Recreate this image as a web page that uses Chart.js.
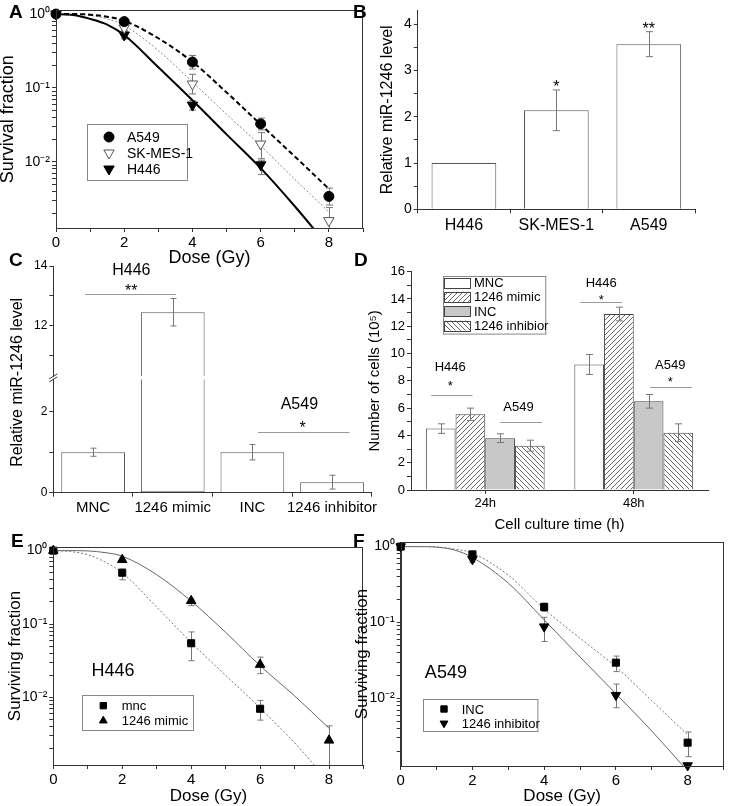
<!DOCTYPE html>
<html>
<head>
<meta charset="utf-8">
<script src="https://cdn.jsdelivr.net/npm/chart.js@4.4.1/dist/chart.umd.min.js"></script>
<style>
  body { margin: 0; width: 730px; height: 806px; overflow: hidden; position: relative; background: #fff; font-family: 'Liberation Sans', Arial, sans-serif; }
  canvas { position: absolute; }
  .lab { position: absolute; font-weight: bold; font-size: 19px; line-height: 1; }
</style>
</head>
<body>
<canvas id="chartA" width="370" height="270" style="left:0;top:0"></canvas>
<canvas id="chartB" width="360" height="270" style="left:370px;top:0"></canvas>
<canvas id="chartC" width="380" height="282" style="left:0;top:248px"></canvas>
<canvas id="chartD" width="370" height="285" style="left:360px;top:250px"></canvas>
<canvas id="chartE" width="370" height="276" style="left:0;top:530px"></canvas>
<canvas id="chartF" width="380" height="276" style="left:350px;top:530px"></canvas>
<div class="lab" style="left:9px;top:2px">A</div>
<div class="lab" style="left:353px;top:2px">B</div>
<div class="lab" style="left:9px;top:250px">C</div>
<div class="lab" style="left:354px;top:250px">D</div>
<div class="lab" style="left:11px;top:531px">E</div>
<div class="lab" style="left:353px;top:531px">F</div>
<script>
// ---- doses and tick labels ----
const doses = [0, 2, 4, 6, 8];
const doseLabels = [0, 2, 4, 6, 8];
const fitDoses = [0, 0.5, 1, 1.5, 2, 3, 4, 5, 6, 7, 8];
const survMajor = [0.01, 0.1, 1];
const survMajorLabels = ['10\u207B\u00B2', '10\u207B\u00B9', '10\u2070'];

// ---- A: survival of three cell lines ----
const a549Surv = [1.0, 0.79, 0.224, 0.0326, 0.0034];
const a549Hi = [null, 0.84, 0.275, 0.039, 0.0044];
const a549Lo = [null, 0.74, 0.18, 0.027, 0.0026];
const skmesSurv = [1.0, 0.65, 0.113, 0.0174, 0.0016];
const skmesHi = [null, 0.71, 0.153, 0.0248, 0.0024];
const skmesLo = [null, 0.59, 0.083, 0.011, 0.0011];
const h446Surv = [1.0, 0.52, 0.0585, 0.0091, null];
const h446Hi = [null, 0.57, 0.067, 0.0105, null];
const h446Lo = [null, 0.46, 0.05, 0.0067, null];
const a549Fit = [1.0, 1.0, 0.98, 0.92, 0.81, 0.47, 0.225, 0.087, 0.032, 0.0118, 0.0043];
const skmesFit = [1.0, 0.995, 0.96, 0.86, 0.70, 0.32, 0.12, 0.044, 0.0165, 0.0058, 0.0021];
const h446Fit = [1.0, 0.97, 0.86, 0.72, 0.52, 0.19, 0.068, 0.0235, 0.0082, 0.0025, 0.0007];

// ---- B: miR-1246 in cell lines ----
const cellLines = ['H446', 'SK-MES-1', 'A549'];
const mirLevel = [1.0, 2.14, 3.57];
const mirSd = [0, 0.44, 0.27];

// ---- C: miR-1246 after mimic / inhibitor ----
const groupsC = ['MNC', '1246 mimic', 'INC', '1246 inhibitor'];
const mirLevelC = [1.0, 12.45, 1.0, 0.26];
const mirSdC = [0.1, 0.46, 0.19, 0.17];
const lowRange = [0, 2.8];
const highRange = [10.3, 14];

// ---- D: cell numbers ----
const cultureTimes = ['24h', '48h'];
const mncCells = [4.5, 9.2];
const mncCellsSd = [0.35, 0.73];
const mimicCells = [5.55, 12.9];
const mimicCellsSd = [0.45, 0.5];
const incCells = [3.8, 6.5];
const incCellsSd = [0.32, 0.5];
const inhibCells = [3.25, 4.2];
const inhibCellsSd = [0.4, 0.65];

// ---- E: H446 mnc vs mimic ----
const mncSurv = [1.0, 0.50, 0.0547, 0.0070, null];
const mncHi = [null, 0.56, 0.078, 0.0091, null];
const mncLo = [null, 0.40, 0.0316, 0.0049, null];
const mimicSurv = [1.0, 0.75, 0.207, 0.028, 0.0026];
const mimicHi = [null, 0.80, 0.22, 0.0354, 0.0041];
const mimicLo = [null, 0.69, 0.178, 0.0211, 0.0009];
const mimicFit = [1.0, 1.0, 0.99, 0.94, 0.84, 0.47, 0.205, 0.077, 0.027, 0.0105, 0.0038];
const mncFit = [1.0, 0.97, 0.88, 0.70, 0.50, 0.17, 0.056, 0.02, 0.0072, 0.0024, 0.0007];

// ---- F: A549 INC vs inhibitor ----
const incSurv = [1.0, 0.79, 0.16, 0.0295, 0.0026];
const incHi = [null, 0.83, 0.18, 0.036, 0.0036];
const incLo = [null, 0.75, 0.14, 0.0225, 0.0017];
const inhibSurv = [1.0, 0.68, 0.088, 0.011, 0.0013];
const inhibHi = [null, 0.74, 0.117, 0.0154, null];
const inhibLo = [null, 0.62, 0.056, 0.0075, null];
const incFit = [1.0, 1.0, 0.99, 0.93, 0.82, 0.42, 0.15, 0.062, 0.026, 0.0093, 0.0033];
const inhibFit = [1.0, 1.0, 0.985, 0.9, 0.72, 0.33, 0.108, 0.035, 0.0115, 0.0037, 0.0011];

const FONT = "'Liberation Sans', Arial, sans-serif";
Chart.defaults.font.family = FONT;
Chart.defaults.color = '#000';
Chart.defaults.animation = false;
Chart.defaults.responsive = false;
Chart.defaults.plugins.legend.display = false;
Chart.defaults.plugins.tooltip.enabled = false;

// fixed axis thickness so the plot areas land where the figure has them
const fit = n => axis => { if (axis.isHorizontal()) axis.height = n; else axis.width = n; };

function axis(o) {
  return Object.assign({}, o, {
    border: Object.assign({ color: '#333', width: 1 }, o.border),
    grid: Object.assign({ drawOnChartArea: false, color: '#333', tickLength: 4 }, o.grid),
    ticks: Object.assign({ color: '#000', padding: 2, autoSkip: false, maxRotation: 0 }, o.ticks)
  });
}

function logTicks(scale) {
  const vals = survMajor.slice();
  [-3, -2, -1].forEach(e => { for (let m = 2; m <= 9; m++) vals.push(m * Math.pow(10, e)); });
  scale.ticks = vals.filter(v => v >= scale.min && v <= scale.max).sort((a, b) => a - b).map(v => ({ value: v }));
}
const logLabel = v => { const k = survMajor.indexOf(v); return k >= 0 ? survMajorLabels[k] : ''; };

function pointSet(label, ys, hi, lo, style) {
  return Object.assign({
    label, data: doses.map((d, i) => ({ x: d, y: ys[i] })), errHi: hi, errLo: lo,
    showLine: false, order: 0, clip: false, pointBorderWidth: 1
  }, style);
}
function fitSet(ys, style) {
  return Object.assign({
    data: fitDoses.map((d, i) => ({ x: d, y: ys[i] })), showLine: true, pointRadius: 0,
    order: 1, clip: 0, cubicInterpolationMode: 'monotone', fill: false
  }, style);
}

// ---- plugins ----
function drawErrorBars(chart, opts) {
  const ctx = chart.ctx, a = chart.chartArea;
  ctx.save();
  ctx.beginPath(); ctx.rect(a.left, a.top, a.right - a.left, a.bottom - a.top); ctx.clip();
  ctx.strokeStyle = opts.color || '#777';
  ctx.lineWidth = 1;
  chart.data.datasets.forEach((ds, i) => {
    if (!ds.errHi && !ds.errSd) return;
    const meta = chart.getDatasetMeta(i);
    const ys = chart.scales[meta.yAxisID];
    meta.data.forEach((el, j) => {
      let hi, lo;
      if (ds.errHi) { hi = ds.errHi[j]; lo = ds.errLo[j]; }
      else {
        const m = (ds.errMean || ds.data)[j], s = ds.errSd[j];
        if (!s || m == null || m < ys.min || m > ys.max) return;
        hi = m + s; lo = m - s;
      }
      if (hi == null || lo == null) return;
      const x = Math.round(el.x) + 0.5, y1 = ys.getPixelForValue(hi), y2 = ys.getPixelForValue(lo);
      const c = opts.cap || 3;
      ctx.beginPath();
      ctx.moveTo(x, y1); ctx.lineTo(x, y2);
      ctx.moveTo(x - c, y1); ctx.lineTo(x + c, y1);
      ctx.moveTo(x - c, y2); ctx.lineTo(x + c, y2);
      ctx.stroke();
    });
  });
  ctx.restore();
}
const errorBars = {
  id: 'errorBars',
  beforeDatasetsDraw(chart, args, opts) { if (opts.behind) drawErrorBars(chart, opts); },
  afterDatasetsDraw(chart, args, opts) { if (!opts.behind) drawErrorBars(chart, opts); }
};

const sigMarks = {
  id: 'sigMarks',
  afterDatasetsDraw(chart, args, opts) {
    const ctx = chart.ctx, xs = chart.scales.x;
    (opts.items || []).forEach(it => {
      const ys = chart.scales[it.axis || 'y'];
      ctx.save();
      if (it.x2 !== undefined) {
        const y = Math.round(ys.getPixelForValue(it.y)) + 0.5;
        ctx.strokeStyle = '#999'; ctx.lineWidth = 1;
        ctx.beginPath();
        ctx.moveTo(xs.getPixelForValue(it.x1), y);
        ctx.lineTo(xs.getPixelForValue(it.x2), y);
        ctx.stroke();
      } else {
        const size = it.size || 14;
        ctx.font = size + 'px ' + FONT;
        ctx.fillStyle = '#000'; ctx.textAlign = 'center'; ctx.textBaseline = 'alphabetic';
        const lift = /^\*+$/.test(it.text) ? 0.575 : 0.358;
        ctx.fillText(it.text, xs.getPixelForValue(it.x), ys.getPixelForValue(it.y) + size * lift);
      }
      ctx.restore();
    });
  }
};

const boxLegend = {
  id: 'boxLegend',
  afterDraw(chart, args, o) {
    if (!o.items) return;
    const ctx = chart.ctx;
    ctx.save();
    ctx.strokeStyle = '#888'; ctx.lineWidth = 1;
    ctx.strokeRect(Math.round(o.left) + 0.5, Math.round(o.top) + 0.5, o.width, o.height);
    o.items.forEach((di, k) => {
      const ds = chart.data.datasets[di];
      const y = o.rowY[k];
      if (o.swatch) {
        ctx.fillStyle = ds.backgroundColor;
        ctx.fillRect(o.markerX, y - o.swatch.h / 2, o.swatch.w, o.swatch.h);
        ctx.strokeStyle = '#444';
        ctx.strokeRect(o.markerX + 0.5, Math.round(y - o.swatch.h / 2) + 0.5, o.swatch.w, o.swatch.h);
      } else {
        ctx.fillStyle = ds.pointBackgroundColor;
        ctx.strokeStyle = ds.pointBorderColor;
        ctx.lineWidth = 1;
        Chart.helpers.drawPoint(ctx, { pointStyle: ds.pointStyle, rotation: ds.pointRotation || 0,
          radius: o.markerRadius || ds.pointRadius, borderWidth: 1 }, o.markerX, y);
      }
      ctx.fillStyle = '#000';
      ctx.font = o.size + 'px ' + FONT;
      ctx.textAlign = 'left'; ctx.textBaseline = 'middle';
      ctx.fillText(ds.label, o.textX, y + 1);
    });
    ctx.restore();
  }
};

const frame = {
  id: 'frame',
  afterDraw(chart, args, o) {
    if (!o.show) return;
    const a = chart.chartArea, ctx = chart.ctx;
    ctx.save();
    ctx.strokeStyle = '#333'; ctx.lineWidth = 1;
    ctx.strokeRect(Math.round(a.left) + 0.5, Math.round(a.top) + 0.5, Math.round(a.right - a.left) - 1, Math.round(a.bottom - a.top));
    ctx.restore();
  }
};

const brokenAxis = {
  id: 'brokenAxis',
  afterDraw(chart, args, o) {
    if (!o.title) return;
    const ctx = chart.ctx, a = chart.chartArea;
    ctx.save();
    ctx.font = o.size + 'px ' + FONT;
    ctx.fillStyle = '#000'; ctx.textAlign = 'center'; ctx.textBaseline = 'middle';
    ctx.translate(o.titleX, (a.top + a.bottom) / 2 + 3);
    ctx.rotate(-Math.PI / 2);
    ctx.fillText(o.title, 0, 0);
    ctx.restore();
    ctx.save();
    ctx.strokeStyle = '#333'; ctx.lineWidth = 1;
    [chart.scales[o.lower].top, chart.scales[o.upper].bottom].forEach(yb => {
      ctx.beginPath();
      ctx.moveTo(a.left - 4, yb + 2.5); ctx.lineTo(a.left + 4, yb - 2.5);
      ctx.stroke();
    });
    ctx.restore();
  }
};

Chart.register(errorBars, sigMarks, boxLegend, frame, brokenAxis);

function hatch(dir) {
  const c = document.createElement('canvas');
  c.width = c.height = 5;
  const g = c.getContext('2d');
  g.fillStyle = '#fff'; g.fillRect(0, 0, 5, 5);
  g.strokeStyle = '#555'; g.lineWidth = 0.9;
  g.beginPath();
  if (dir > 0) { g.moveTo(0, 5); g.lineTo(5, 0); g.moveTo(-1, 1); g.lineTo(1, -1); g.moveTo(4, 6); g.lineTo(6, 4); }
  else { g.moveTo(0, 0); g.lineTo(5, 5); g.moveTo(-1, 4); g.lineTo(1, 6); g.moveTo(4, -1); g.lineTo(6, 1); }
  g.stroke();
  return g.createPattern(c, 'repeat');
}

function doseAxis(height, titleSize, tickSize, padBottom) {
  return axis({
    type: 'linear', min: 0, max: 9, afterFit: fit(height),
    ticks: { stepSize: 1, font: { size: tickSize }, callback: v => doseLabels.includes(v) ? String(v) : '' },
    title: { display: true, text: 'Dose (Gy)', font: { size: titleSize, lineHeight: 1 }, padding: { top: 0, bottom: padBottom } }
  });
}
function survAxis(width, min, max, title, titleSize, padTop) {
  return axis({
    type: 'logarithmic', min, max, afterFit: fit(width), afterBuildTicks: logTicks,
    ticks: { font: { size: 14 }, callback: logLabel },
    title: { display: true, text: title, font: { size: titleSize, lineHeight: 1 }, padding: { top: padTop, bottom: 0 } }
  });
}

// ---- A ----
new Chart(document.getElementById('chartA'), {
  type: 'scatter',
  data: { datasets: [
    pointSet('A549', a549Surv, a549Hi, a549Lo, { pointStyle: 'circle', pointRadius: 5, pointBackgroundColor: '#000', pointBorderColor: '#000' }),
    pointSet('SK-MES-1', skmesSurv, skmesHi, skmesLo, { pointStyle: 'triangle', pointRotation: 180, pointRadius: 6, pointBackgroundColor: '#fff', pointBorderColor: '#555' }),
    pointSet('H446', h446Surv, h446Hi, h446Lo, { pointStyle: 'triangle', pointRotation: 180, pointRadius: 6, pointBackgroundColor: '#000', pointBorderColor: '#000' }),
    fitSet(a549Fit, { borderColor: '#000', borderWidth: 2, borderDash: [5, 3] }),
    fitSet(skmesFit, { borderColor: '#888', borderWidth: 1, borderDash: [2, 2] }),
    fitSet(h446Fit, { borderColor: '#000', borderWidth: 2 })
  ] },
  options: {
    layout: { padding: { top: 4, right: 2.5, left: 0, bottom: 0 } },
    plugins: {
      errorBars: { behind: true, cap: 3.5, color: '#777' },
      frame: { show: true },
      boxLegend: { items: [0, 1, 2], left: 87, top: 124, width: 100, height: 56, rowY: [137, 153, 169], markerX: 109, textX: 127, size: 14 }
    },
    scales: {
      x: doseAxis(42, 18, 15, 3),
      y: survAxis(56, 0.00127, 1.12, 'Survival fraction', 18, -1)
    }
  }
});

// ---- B ----
new Chart(document.getElementById('chartB'), {
  type: 'bar',
  data: { labels: cellLines, datasets: [{
    data: mirLevel, errSd: mirSd, backgroundColor: '#fff', borderColor: '#555', borderWidth: 1,
    barPercentage: 0.7, categoryPercentage: 1
  }] },
  options: {
    layout: { padding: { top: 4.4, right: 35, left: 0, bottom: 0 } },
    plugins: {
      errorBars: { cap: 3.5, color: '#777' },
      sigMarks: { items: [
        { text: '*', x: 1, y: 2.73, size: 16 },
        { text: '**', x: 2, y: 3.99, size: 16 }
      ] }
    },
    scales: {
      x: axis({ afterFit: fit(60.7), ticks: { font: { size: 16 }, padding: 3 } }),
      y: axis({
        min: 0, max: 4.3, afterFit: fit(47.7),
        ticks: { stepSize: 0.5, includeBounds: false, font: { size: 14 }, callback: v => Number.isInteger(v) ? v : '' },
        title: { display: true, text: 'Relative miR-1246 level', font: { size: 16, lineHeight: 1 }, padding: { top: 10, bottom: 0 } }
      })
    }
  }
});

// ---- C (broken axis: lower and upper y scales stacked) ----
new Chart(document.getElementById('chartC'), {
  type: 'bar',
  data: { labels: groupsC, datasets: [
    {
      yAxisID: 'yLow', grouped: false,
      data: mirLevelC.map(v => [lowRange[0], Math.min(v, lowRange[1])]),
      errMean: mirLevelC, errSd: mirSdC,
      backgroundColor: '#fff', borderColor: '#555', borderWidth: 1,
      borderSkipped: c => mirLevelC[c.dataIndex] > lowRange[1] ? 'end' : 'start',
      barPercentage: 0.8, categoryPercentage: 1
    },
    {
      yAxisID: 'yHigh', grouped: false,
      data: mirLevelC.map(v => v > highRange[0] ? [highRange[0], v] : null),
      errMean: mirLevelC, errSd: mirSdC,
      backgroundColor: '#fff', borderColor: '#555', borderWidth: 1, borderSkipped: 'start',
      barPercentage: 0.8, categoryPercentage: 1
    }
  ] },
  options: {
    layout: { padding: { top: 18, right: 7.5, left: 0, bottom: 0 } },
    plugins: {
      errorBars: { cap: 3, color: '#777' },
      brokenAxis: { title: 'Relative miR-1246 level', size: 16, titleX: 18, lower: 'yLow', upper: 'yHigh' },
      sigMarks: { items: [
        { x1: -0.1, x2: 1.04, y: 13.05, axis: 'yHigh' },
        { text: 'H446', x: 0.48, y: 13.89, axis: 'yHigh', size: 16 },
        { text: '**', x: 0.48, y: 13.31, axis: 'yHigh', size: 16 },
        { x1: 2.07, x2: 3.22, y: 1.49, axis: 'yLow' },
        { text: 'A549', x: 2.59, y: 2.21, axis: 'yLow', size: 16 },
        { text: '*', x: 2.63, y: 1.70, axis: 'yLow', size: 16 }
      ] }
    },
    scales: {
      x: axis({ afterFit: fit(37.3), ticks: { font: { size: 15 }, padding: 2 } }),
      yLow: axis({
        type: 'linear', position: 'left', stack: 'c', stackWeight: 113.4,
        min: lowRange[0], max: lowRange[1], afterFit: fit(53.3),
        ticks: { stepSize: 1, includeBounds: false, font: { size: 12 }, callback: v => v % 2 === 0 ? v : '' }
      }),
      yGap: {
        type: 'linear', position: 'left', stack: 'c', stackWeight: 3, min: 0, max: 1, afterFit: fit(53.3),
        ticks: { display: false }, grid: { display: false }, border: { display: false }
      },
      yHigh: axis({
        type: 'linear', position: 'left', stack: 'c', stackWeight: 110.4,
        min: highRange[0], max: highRange[1], afterFit: fit(53.3),
        ticks: { stepSize: 1, includeBounds: false, font: { size: 12 }, callback: v => v % 2 === 0 ? v : '' }
      })
    }
  }
});

// ---- D ----
const barD = { borderColor: '#444', borderWidth: 1, barPercentage: 1, categoryPercentage: 0.8 };
new Chart(document.getElementById('chartD'), {
  type: 'bar',
  data: { labels: cultureTimes, datasets: [
    Object.assign({ label: 'MNC', data: mncCells, errSd: mncCellsSd, backgroundColor: '#fff' }, barD),
    Object.assign({ label: '1246 mimic', data: mimicCells, errSd: mimicCellsSd, backgroundColor: hatch(1) }, barD),
    Object.assign({ label: 'INC', data: incCells, errSd: incCellsSd, backgroundColor: '#c8c8c8' }, barD),
    Object.assign({ label: '1246 inhibior', data: inhibCells, errSd: inhibCellsSd, backgroundColor: hatch(-1) }, barD)
  ] },
  options: {
    layout: { padding: { top: 21.7, right: 22, left: 0, bottom: 0 } },
    plugins: {
      errorBars: { cap: 3.5, color: '#777' },
      boxLegend: { items: [0, 1, 2, 3], left: 82.7, top: 25.7, width: 102.3, height: 57.6, rowY: [32.5, 46.8, 61, 75.5],
        markerX: 84, textX: 114, size: 13, swatch: { w: 26, h: 10 } },
      sigMarks: { items: [
        { x1: -0.364, x2: -0.086, y: 6.95 },
        { text: 'H446', x: -0.236, y: 9.05, size: 13 },
        { text: '*', x: -0.236, y: 7.87, size: 13 },
        { x1: 0.101, x2: 0.382, y: 5.01 },
        { text: 'A549', x: 0.224, y: 6.11, size: 13 },
        { x1: 0.64, x2: 0.92, y: 13.77 },
        { text: 'H446', x: 0.781, y: 15.24, size: 13 },
        { text: '*', x: 0.781, y: 14.18, size: 13 },
        { x1: 1.111, x2: 1.392, y: 7.53 },
        { text: 'A549', x: 1.246, y: 9.24, size: 13 },
        { text: '*', x: 1.246, y: 8.2, size: 13 }
      ] }
    },
    scales: {
      x: axis({
        afterFit: fit(45), grid: { offset: false }, ticks: { font: { size: 13 }, padding: 2 },
        title: { display: true, text: 'Cell culture time (h)', font: { size: 15, lineHeight: 1 }, padding: { top: 0, bottom: 2.5 } }
      }),
      y: axis({
        min: 0, max: 16, afterFit: fit(51),
        ticks: { stepSize: 1, font: { size: 13 }, callback: v => v % 2 === 0 ? v : '' },
        title: { display: true, text: 'Number of cells (10\u2075)', font: { size: 15, lineHeight: 1 }, padding: { top: 7.5, bottom: 0 } }
      })
    }
  }
});

// ---- E ----
new Chart(document.getElementById('chartE'), {
  type: 'scatter',
  data: { datasets: [
    pointSet('mnc', mncSurv, mncHi, mncLo, { pointStyle: 'rect', pointRadius: 5, pointBackgroundColor: '#000', pointBorderColor: '#000' }),
    pointSet('1246 mimic', mimicSurv, mimicHi, mimicLo, { pointStyle: 'triangle', pointRadius: 5.5, pointBackgroundColor: '#000', pointBorderColor: '#000' }),
    fitSet(mncFit, { borderColor: '#777', borderWidth: 1, borderDash: [2, 2] }),
    fitSet(mimicFit, { borderColor: '#666', borderWidth: 1 })
  ] },
  options: {
    layout: { padding: { top: 17, right: 1.7, left: 0, bottom: 0 } },
    plugins: {
      errorBars: { behind: true, cap: 3, color: '#777' },
      frame: { show: true },
      boxLegend: { items: [0, 1], left: 81.7, top: 165, width: 111, height: 35, rowY: [175.7, 190.7], markerX: 103.3, textX: 121.7, size: 13, markerRadius: 4.5 },
      sigMarks: { items: [{ text: 'H446', x: 1.73, y: 0.0243, size: 18 }] }
    },
    scales: {
      x: doseAxis(41, 17, 15, 1.5),
      y: survAxis(53.3, 0.0012, 1.12, 'Surviving fraction', 17, 6.5)
    }
  }
});

// ---- F ----
new Chart(document.getElementById('chartF'), {
  type: 'scatter',
  data: { datasets: [
    pointSet('INC', incSurv, incHi, incLo, { pointStyle: 'rect', pointRadius: 5, pointBackgroundColor: '#000', pointBorderColor: '#000' }),
    pointSet('1246 inhibitor', inhibSurv, inhibHi, inhibLo, { pointStyle: 'triangle', pointRotation: 180, pointRadius: 5.5, pointBackgroundColor: '#000', pointBorderColor: '#000' }),
    fitSet(incFit, { borderColor: '#777', borderWidth: 1, borderDash: [2, 2] }),
    fitSet(inhibFit, { borderColor: '#666', borderWidth: 1 })
  ] },
  options: {
    layout: { padding: { top: 12, right: 1.7, left: 0, bottom: 0 } },
    plugins: {
      errorBars: { behind: true, cap: 3, color: '#777' },
      frame: { show: true },
      boxLegend: { items: [0, 1], left: 73.3, top: 169.3, width: 114.4, height: 32, rowY: [179, 193.3], markerX: 94, textX: 111.7, size: 13, markerRadius: 4.5 },
      sigMarks: { items: [{ text: 'A549', x: 1.26, y: 0.0224, size: 18 }] }
    },
    scales: {
      x: doseAxis(40, 17, 15, 1.5),
      y: survAxis(50.7, 0.00128, 1.15, 'Surviving fraction', 17, 3.5)
    }
  }
});
</script>
</body>
</html>
